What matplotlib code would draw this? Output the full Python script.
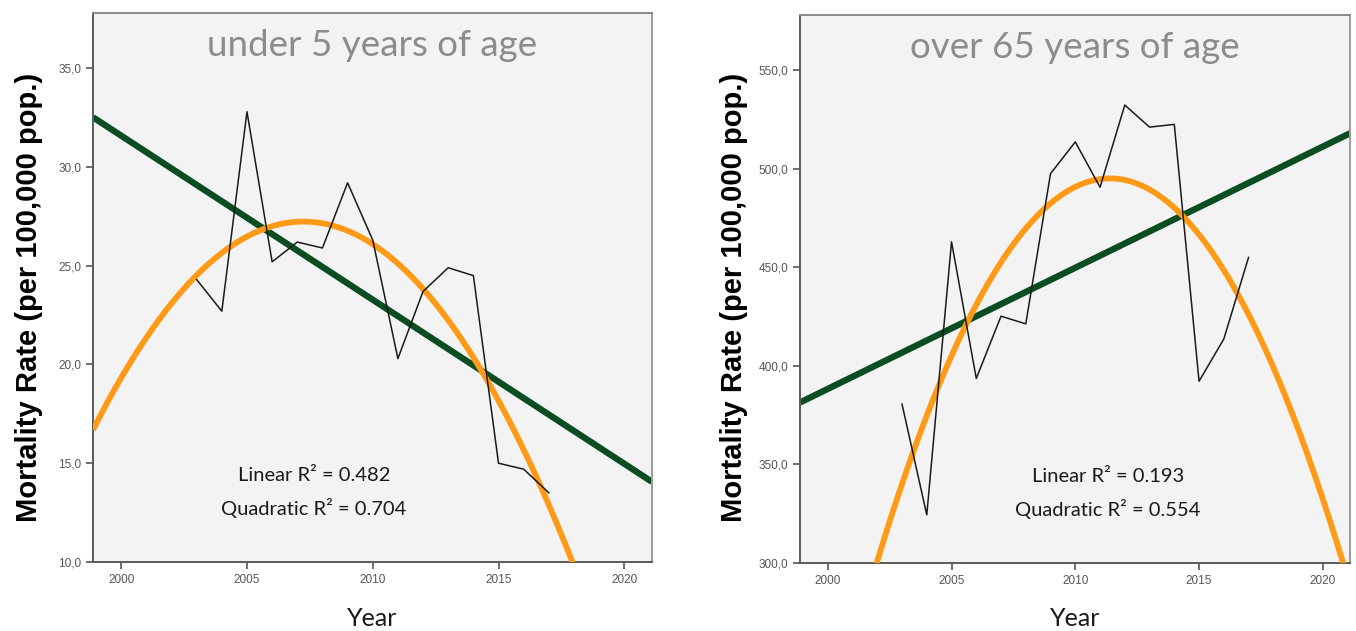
import numpy as np
import matplotlib
matplotlib.use("Agg")
import matplotlib.pyplot as plt
from matplotlib.ticker import FuncFormatter

years = np.arange(2003, 2018)
under5 = [24.3, 22.7, 32.8, 25.2, 26.2, 25.9, 29.2, 26.3, 20.3, 23.7, 24.9, 24.5, 15.0, 14.7, 13.5]
over65 = [380.6, 324.4, 462.9, 393.6, 425.2, 421.3, 497.5, 513.6, 490.6, 532.3, 521.1, 522.5, 392.2, 413.6, 455.0]

titles = ["under 5 years of age", "over 65 years of age"]
r2_text = [("0.482", "0.704"), ("0.193", "0.554")]
ylims = [(10, 37.8), (300, 578)]
yticks = [np.arange(10, 36, 5), np.arange(300, 551, 50)]
xticks = [2000, 2005, 2010, 2015, 2020]
xlim = (1998.88, 2021.1)

GREEN = "#0b4d22"
ORANGE = "#ff9a17"
BG = "#f3f3f3"

fig = plt.figure(figsize=(13.56, 6.31), dpi=100)
positions = [[0.0686, 0.1094, 0.4122, 0.8700], [0.5900, 0.1078, 0.4056, 0.8685]]
ylab_x = [29, 734]

for i, vals in enumerate([under5, over65]):
    ax = fig.add_axes(positions[i])
    ax.set_facecolor(BG)
    xs = np.linspace(xlim[0], xlim[1], 300)

    # fitted curves from the observed series
    lin = np.polyfit(years, vals, 1)
    quad = np.polyfit(years, vals, 2)
    ax.plot(xs, np.polyval(lin, xs), color=GREEN, lw=4.6, solid_capstyle="butt", zorder=2)
    ax.plot(xs, np.polyval(quad, xs), color=ORANGE, lw=4.2, solid_capstyle="butt", zorder=3)
    ax.plot(years, vals, color="#1a1a1a", lw=1.1, zorder=4)

    ax.set_xlim(*xlim)
    ax.set_ylim(*ylims[i])
    ax.set_xticks(xticks)
    ax.set_yticks(yticks[i])
    ax.yaxis.set_major_formatter(FuncFormatter(lambda v, p: f"{v:.1f}".replace(".", ",")))
    ax.tick_params(axis="both", labelsize=8.5, colors="#555555", length=5, width=1.2,
                   labelcolor="#555555", direction="out")
    for lab in ax.get_xticklabels() + ax.get_yticklabels():
        lab.set_family("Liberation Sans")
    for s in ax.spines.values():
        s.set_color("#5a5a5a")
        s.set_linewidth(1.4)
    ax.spines["right"].set_color("#9a9a9a")
    ax.spines["top"].set_color("#8a8a8a")

    ax.text(0.5, 0.94, titles[i], transform=ax.transAxes, ha="center", va="center",
            fontsize=26.5, color="#8c8c8c", family="Lato")
    lx = 0.395 if i == 0 else 0.56
    ax.text(lx, 0.158, f"Linear R² = {r2_text[i][0]}", transform=ax.transAxes,
            ha="center", va="center", fontsize=14.5, color="#1a1a1a", family="Lato")
    ax.text(lx, 0.098, f"Quadratic R² = {r2_text[i][1]}", transform=ax.transAxes,
            ha="center", va="center", fontsize=14.5, color="#1a1a1a", family="Lato")

    fig.text(ylab_x[i] / 1356, 0.528, "Mortality Rate (per 100,000 pop.)", rotation=90,
             ha="center", va="center", fontsize=21, fontweight="bold", family="Liberation Sans")
    cx = positions[i][0] + positions[i][2] / 2
    fig.text(cx, 1 - 618 / 631, "Year", ha="center", va="center", fontsize=18, family="Lato",
             color="#1a1a1a")

fig.savefig("out.png", dpi=100, facecolor="white")
